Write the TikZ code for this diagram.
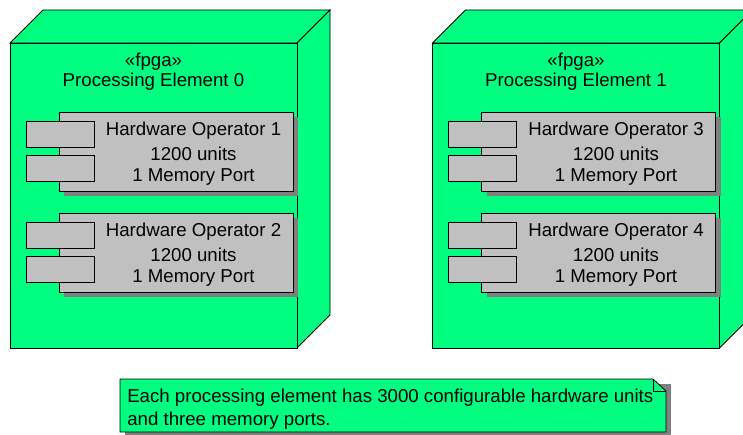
\documentclass[tikz,border=0pt]{standalone}
\usepackage{fontspec}
\setmainfont{Liberation Sans}
\definecolor{nodegreen}{RGB}{0,255,128}
\definecolor{compgray}{RGB}{192,192,192}
\definecolor{shadowgray}{RGB}{128,128,128}
\tikzset{
  edge/.style={draw=black, line width=0.6pt, line join=miter},
  greenface/.style={edge, fill=nodegreen},
  compbox/.style={edge, fill=compgray},
  shadowbox/.style={fill=shadowgray, draw=none},
  lbl/.style={font=\fontsize{14pt}{17pt}\selectfont, inner sep=0pt, anchor=center},
  % UML component with its two port rectangles and a drop shadow
  hwop/.pic={
    \fill[shadowbox] (5,5) rectangle (239,84);
    \path[compbox] (0,0) rectangle (234,79);
    \path[compbox] (-33,9) rectangle (35,35);
    \path[compbox] (-33,43) rectangle (35,69);
    \node[lbl] (-name) at (134.5,19) {Hardware Operator #1};
    \node[lbl] (-units) at (134.5,42) {1200 units};
    \node[lbl] (-port) at (134.5,65) {1 Memory Port};
  },
  % 3D UML deployment node
  fpga/.pic={
    \path[greenface] (0,43) -- (33,10) -- (320,10) -- (287,43) -- cycle;
    \path[greenface] (287,43) -- (320,10) -- (320,315) -- (287,348) -- cycle;
    \path[greenface] (0,43) rectangle (287,348);
    \node[lbl] (-stereo) at (143.5,62) {«fpga»};
    \node[lbl] (-title) at (143.5,82) {Processing Element #1};
  }
}
\begin{document}
\begin{tikzpicture}[x=0.75pt,y=-0.75pt]
\useasboundingbox (0,0) rectangle (743,435);
\begin{scope}
\clip (0,0) rectangle (743,435);

% processing element 0
\pic (pe0) at (10,0) {fpga={0}};
\pic (op1) at (59,112) {hwop={1}};
\pic (op2) at (59,213) {hwop={2}};

% processing element 1
\pic (pe1) at (432.5,0) {fpga={1}};
\pic (op3) at (481.5,112) {hwop={3}};
\pic (op4) at (481.5,213) {hwop={4}};

% note with folded corner
\fill[shadowbox] (125,384) rectangle (671,437);
\path[greenface] (120,379) -- (653,379) -- (666,391) -- (666,432) -- (120,432) -- cycle;
\draw[edge] (653,379) -- (653,391) -- (666,391);
\node[lbl, anchor=west, align=left] (note) at (127,409)
  {Each processing element has 3000 configurable hardware units\\and three memory ports.};
\end{scope}
\end{tikzpicture}
\end{document}
